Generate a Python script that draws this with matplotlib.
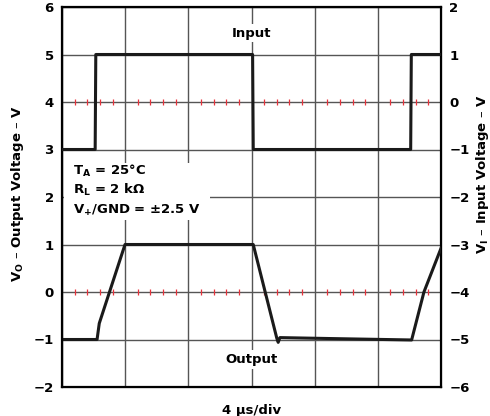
import numpy as np
import matplotlib.pyplot as plt
from matplotlib.patches import Rectangle

plt.rcParams['font.family'] = 'DejaVu Sans'
plt.rcParams['font.weight'] = 'bold'
plt.rcParams['axes.labelweight'] = 'bold'
plt.rcParams['font.size'] = 9.5
plt.rcParams['mathtext.fontset'] = 'dejavusans'
plt.rcParams['mathtext.default'] = 'bf'

# time axis in µs, 4 µs per division
t_in = [0, 2.10, 2.14, 12.07, 12.11, 22.08, 22.12, 24]
v_in = [-1, -1, 1, 1, -1, -1, 1, 1]

t_out = [0, 2.22, 2.36, 3.99, 12.11, 13.60, 13.69, 13.80, 17.0, 22.14, 22.92, 24]
v_out = [-1, -1, -0.66, 1.0, 1.0, -0.97, -1.06, -0.96, -0.98, -1.01, 0.0, 0.92]

left_ticks = list(range(-2, 7))
right_ticks = list(range(-6, 3))
time_ticks = list(range(0, 25, 4))

fig = plt.figure(figsize=(4.9, 4.16), dpi=100)
ax = fig.add_axes([62 / 490, 1 - 387 / 416, 379 / 490, 380 / 416])

ax.set_xlim(0, 24)
ax.set_ylim(-2, 6)
ax.set_xticks(time_ticks)
ax.set_yticks(left_ticks)
ax.set_axisbelow(True)
ax.grid(color='#555555', lw=1.0)
ax.tick_params(length=0, labelbottom=False, pad=6)
for s in ax.spines.values():
    s.set_linewidth(1.6)

# red sub-division marks on the two centre lines
sub = [x for x in np.arange(0.8, 24, 0.8) if abs(x / 4 - round(x / 4)) > 0.01]
for yc in (4, 0):
    ax.plot(sub, [yc] * len(sub), ls='none', marker='|', ms=4.5, mew=0.9,
            color='#e8323c', zorder=0.8)

ax.plot(t_out, v_out, color='#1a1a1a', lw=2.2, solid_joinstyle='round', zorder=3)

ax2 = ax.twinx()
ax2.set_ylim(-6, 2)
ax2.set_yticks(right_ticks)
ax2.tick_params(length=0, pad=6)
ax2.plot(t_in, v_in, color='#1a1a1a', lw=2.2, zorder=3)

# white area behind the conditions block
ax.add_patch(Rectangle((0.004, 0.44), 0.386, 0.15, transform=ax.transAxes,
                       fc='white', ec='none', zorder=1))
ax.text(0.7, 2.46, 'T$_A$ = 25°C', ha='left', va='baseline', zorder=4)
ax.text(0.7, 2.06, 'R$_L$ = 2 kΩ', ha='left', va='baseline', zorder=4)
ax.text(0.7, 1.64, 'V$_{{+}}$/GND = ±2.5 V', ha='left', va='baseline', zorder=4)

box = dict(fc='white', ec='none', pad=2)
ax.text(12, 5.375, 'Input', ha='center', va='baseline', bbox=box, zorder=4)
ax.text(12, -1.50, 'Output', ha='center', va='baseline', bbox=box, zorder=4)

ax.set_xlabel('4 µs/div', va='baseline')
ax.xaxis.set_label_coords(0.5, -0.072)
ax.set_ylabel('V$_O$ – Output Voltage – V')
ax.yaxis.set_label_coords(-0.095, 0.51)
ax2.set_ylabel('V$_I$ – Input Voltage – V')
ax2.yaxis.set_label_coords(1.088, 0.56)

fig.savefig('out.png', dpi=100)
